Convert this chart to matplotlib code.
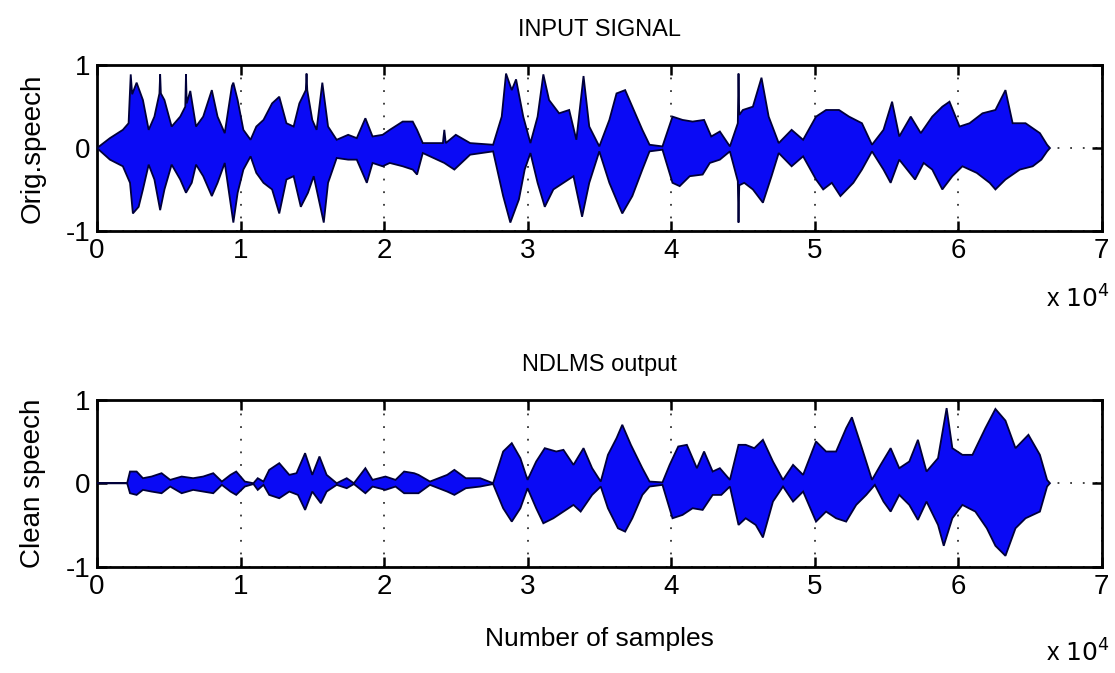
import numpy as np
import matplotlib
matplotlib.use('Agg')
from matplotlib import pyplot as plt

plt.rcParams['font.family'] = ['Liberation Sans', 'DejaVu Sans']

# envelope of the input signal, x in units of 1e4 samples
in_up_x = [0.00, 0.09, 0.18, 0.22, 0.235, 0.245, 0.276, 0.32, 0.36, 0.40, 0.435, 0.44, 0.445, 0.47, 0.52, 0.58,
           0.615, 0.62, 0.625, 0.65, 0.69, 0.74, 0.80, 0.84, 0.89, 0.94, 0.95, 0.98, 1.02, 1.07, 1.11, 1.16,
           1.22, 1.27, 1.32, 1.37, 1.41, 1.455, 1.46, 1.465, 1.50, 1.53, 1.57, 1.61, 1.67, 1.75, 1.81, 1.87,
           1.92, 1.99, 2.04, 2.13, 2.20, 2.23, 2.27, 2.41, 2.42, 2.43, 2.50, 2.60, 2.76, 2.82, 2.85, 2.89,
           2.92, 2.97, 3.02, 3.07, 3.11, 3.15, 3.22, 3.29, 3.34, 3.39, 3.43, 3.50, 3.57, 3.62, 3.68, 3.73,
           3.80, 3.85, 3.94, 4.01, 4.08, 4.15, 4.23, 4.28, 4.34, 4.41, 4.465, 4.47, 4.475, 4.50, 4.57, 4.63,
           4.68, 4.75, 4.84, 4.92, 5.01, 5.08, 5.17, 5.24, 5.33, 5.40, 5.48, 5.54, 5.59, 5.67, 5.74, 5.82,
           5.89, 5.94, 6.01, 6.08, 6.17, 6.26, 6.33, 6.38, 6.47, 6.57, 6.62, 6.64]
in_up_y = [0.00, 0.12, 0.22, 0.30, 0.89, 0.65, 0.79, 0.58, 0.22, 0.38, 0.66, 0.89, 0.66, 0.58, 0.26, 0.38,
           0.50, 0.89, 0.54, 0.69, 0.26, 0.38, 0.70, 0.38, 0.18, 0.75, 0.79, 0.58, 0.22, 0.10, 0.26, 0.34,
           0.54, 0.62, 0.30, 0.26, 0.54, 0.70, 0.90, 0.70, 0.34, 0.22, 0.79, 0.26, 0.10, 0.16, 0.12, 0.36,
           0.14, 0.16, 0.22, 0.32, 0.32, 0.22, 0.06, 0.06, 0.22, 0.06, 0.16, 0.06, 0.04, 0.38, 0.90, 0.70,
           0.83, 0.38, 0.06, 0.38, 0.89, 0.58, 0.42, 0.46, 0.10, 0.87, 0.26, 0.02, 0.34, 0.66, 0.70, 0.50,
           0.22, 0.04, 0.02, 0.38, 0.34, 0.32, 0.34, 0.14, 0.20, 0.02, 0.30, 0.90, 0.40, 0.46, 0.50, 0.85,
           0.38, 0.06, 0.22, 0.10, 0.38, 0.46, 0.46, 0.38, 0.30, 0.04, 0.22, 0.56, 0.14, 0.38, 0.18, 0.38,
           0.50, 0.56, 0.26, 0.30, 0.42, 0.46, 0.70, 0.30, 0.30, 0.18, 0.04, 0.00]
in_lo_x = [0.00, 0.09, 0.18, 0.23, 0.25, 0.29, 0.32, 0.36, 0.40, 0.44, 0.47, 0.52, 0.58, 0.62, 0.66, 0.69,
           0.74, 0.80, 0.84, 0.89, 0.95, 0.98, 1.02, 1.07, 1.11, 1.16, 1.22, 1.27, 1.32, 1.37, 1.42, 1.47,
           1.51, 1.58, 1.61, 1.67, 1.75, 1.81, 1.88, 1.92, 1.99, 2.04, 2.13, 2.20, 2.23, 2.27, 2.42, 2.49,
           2.60, 2.76, 2.83, 2.88, 2.94, 2.98, 3.02, 3.07, 3.12, 3.18, 3.25, 3.32, 3.38, 3.43, 3.50, 3.57,
           3.64, 3.66, 3.73, 3.80, 3.85, 3.94, 4.01, 4.06, 4.13, 4.22, 4.27, 4.34, 4.41, 4.465, 4.47, 4.475,
           4.51, 4.57, 4.64, 4.70, 4.75, 4.84, 4.92, 5.01, 5.06, 5.12, 5.18, 5.27, 5.33, 5.40, 5.48, 5.53,
           5.59, 5.70, 5.76, 5.82, 5.89, 5.96, 6.03, 6.13, 6.22, 6.26, 6.33, 6.43, 6.52, 6.58, 6.62, 6.64]
in_lo_y = [0.00, -0.14, -0.22, -0.42, -0.79, -0.71, -0.50, -0.20, -0.38, -0.75, -0.50, -0.20, -0.38, -0.54, -0.42, -0.20,
           -0.34, -0.58, -0.42, -0.18, -0.90, -0.54, -0.26, -0.10, -0.30, -0.42, -0.50, -0.79, -0.38, -0.34, -0.71, -0.54,
           -0.34, -0.90, -0.42, -0.12, -0.14, -0.14, -0.42, -0.18, -0.22, -0.18, -0.22, -0.26, -0.32, -0.06, -0.18, -0.26,
           -0.08, -0.04, -0.58, -0.90, -0.62, -0.26, -0.06, -0.42, -0.71, -0.50, -0.42, -0.34, -0.83, -0.42, -0.04, -0.42,
           -0.71, -0.79, -0.58, -0.26, -0.04, -0.02, -0.42, -0.46, -0.34, -0.32, -0.18, -0.14, -0.04, -0.40, -0.90, -0.45,
           -0.42, -0.50, -0.66, -0.34, -0.06, -0.22, -0.10, -0.38, -0.50, -0.42, -0.58, -0.42, -0.26, -0.04, -0.26, -0.42,
           -0.14, -0.38, -0.18, -0.26, -0.50, -0.34, -0.22, -0.30, -0.42, -0.50, -0.38, -0.26, -0.22, -0.14, -0.04, 0.00]

# envelope of the NDLMS output
out_up_x = [0.00, 0.21, 0.23, 0.276, 0.32, 0.38, 0.45, 0.51, 0.59, 0.67, 0.74, 0.81, 0.87, 0.93, 0.97, 1.03,
            1.09, 1.12, 1.16, 1.20, 1.27, 1.34, 1.39, 1.45, 1.50, 1.55, 1.60, 1.67, 1.74, 1.79, 1.87, 1.92,
            2.01, 2.08, 2.14, 2.21, 2.24, 2.32, 2.44, 2.49, 2.57, 2.67, 2.76, 2.83, 2.89, 2.95, 3.00, 3.06,
            3.12, 3.20, 3.25, 3.32, 3.39, 3.45, 3.51, 3.56, 3.62, 3.66, 3.72, 3.80, 3.85, 3.94, 3.99, 4.05,
            4.11, 4.18, 4.23, 4.29, 4.34, 4.41, 4.47, 4.52, 4.58, 4.64, 4.71, 4.78, 4.85, 4.92, 5.01, 5.08,
            5.15, 5.22, 5.26, 5.33, 5.40, 5.46, 5.53, 5.59, 5.66, 5.72, 5.78, 5.86, 5.92, 5.96, 6.03, 6.10,
            6.19, 6.26, 6.33, 6.40, 6.49, 6.57, 6.62, 6.64]
out_up_y = [0.00, 0.00, 0.14, 0.14, 0.06, 0.08, 0.12, 0.04, 0.08, 0.06, 0.08, 0.12, 0.02, 0.10, 0.14, 0.02,
            0.00, 0.06, 0.02, 0.16, 0.24, 0.10, 0.12, 0.36, 0.10, 0.32, 0.10, 0.00, 0.06, 0.00, 0.18, 0.04,
            0.08, 0.04, 0.14, 0.12, 0.10, 0.02, 0.10, 0.16, 0.06, 0.06, 0.00, 0.38, 0.48, 0.30, 0.04, 0.26,
            0.42, 0.38, 0.40, 0.22, 0.42, 0.18, 0.02, 0.34, 0.54, 0.70, 0.46, 0.18, 0.02, 0.01, 0.22, 0.44,
            0.46, 0.18, 0.38, 0.14, 0.18, 0.04, 0.46, 0.46, 0.42, 0.52, 0.26, 0.04, 0.22, 0.10, 0.50, 0.38,
            0.38, 0.66, 0.79, 0.42, 0.04, 0.22, 0.42, 0.18, 0.26, 0.52, 0.14, 0.30, 0.90, 0.42, 0.34, 0.34,
            0.66, 0.89, 0.75, 0.42, 0.58, 0.34, 0.04, 0.00]
out_lo_x = [0.00, 0.21, 0.23, 0.276, 0.32, 0.38, 0.45, 0.51, 0.59, 0.67, 0.74, 0.81, 0.87, 0.93, 0.97, 1.03,
            1.09, 1.12, 1.16, 1.20, 1.27, 1.34, 1.40, 1.45, 1.50, 1.56, 1.60, 1.67, 1.74, 1.79, 1.87, 1.92,
            2.01, 2.08, 2.14, 2.21, 2.24, 2.32, 2.44, 2.49, 2.57, 2.67, 2.76, 2.83, 2.89, 2.95, 3.00, 3.06,
            3.11, 3.18, 3.25, 3.32, 3.37, 3.45, 3.51, 3.56, 3.63, 3.68, 3.73, 3.80, 3.85, 3.94, 4.01, 4.08,
            4.15, 4.22, 4.29, 4.35, 4.41, 4.47, 4.52, 4.59, 4.64, 4.71, 4.78, 4.85, 4.92, 5.01, 5.08, 5.15,
            5.22, 5.29, 5.36, 5.42, 5.48, 5.53, 5.59, 5.66, 5.72, 5.78, 5.86, 5.90, 5.96, 6.03, 6.12, 6.20,
            6.26, 6.33, 6.40, 6.47, 6.57, 6.62, 6.64]
out_lo_y = [0.00, 0.00, -0.12, -0.14, -0.08, -0.10, -0.12, -0.04, -0.12, -0.08, -0.10, -0.12, -0.02, -0.10, -0.14, -0.04,
            -0.01, -0.08, -0.02, -0.14, -0.18, -0.10, -0.14, -0.32, -0.10, -0.24, -0.10, -0.02, -0.06, -0.01, -0.12, -0.04,
            -0.08, -0.04, -0.12, -0.12, -0.12, -0.02, -0.10, -0.14, -0.06, -0.04, -0.01, -0.30, -0.46, -0.30, -0.06, -0.30,
            -0.48, -0.42, -0.34, -0.26, -0.34, -0.14, -0.04, -0.30, -0.54, -0.58, -0.42, -0.14, -0.04, -0.02, -0.42, -0.38,
            -0.30, -0.32, -0.14, -0.14, -0.04, -0.50, -0.42, -0.50, -0.65, -0.22, -0.04, -0.22, -0.10, -0.46, -0.34, -0.42,
            -0.46, -0.26, -0.14, -0.02, -0.22, -0.34, -0.14, -0.26, -0.44, -0.22, -0.50, -0.75, -0.42, -0.26, -0.34, -0.54,
            -0.75, -0.87, -0.54, -0.42, -0.34, -0.04, 0.00]

titles = ['INPUT SIGNAL', 'NDLMS output']
ylabels = ['Orig.speech', 'Clean speech']
xticks = [0, 1, 2, 3, 4, 5, 6, 7]
yticks = [-1, 0, 1]

fig = plt.figure(figsize=(11.15, 6.73), dpi=100)
ax1 = fig.add_axes([0.087, 0.657, 0.901, 0.246])
ax2 = fig.add_axes([0.087, 0.158, 0.901, 0.248])

data = [(in_up_x, in_up_y, in_lo_x, in_lo_y), (out_up_x, out_up_y, out_lo_x, out_lo_y)]
for ax, (ux, uy, lx, ly), t, yl in zip([ax1, ax2], data, titles, ylabels):
    px = np.concatenate([ux, lx[::-1]])
    py = np.concatenate([uy, ly[::-1]])
    ax.fill(px, py, facecolor='#0a0af5', edgecolor='#00003a', linewidth=1.3, zorder=3)
    ax.set_xlim(0, 7)
    ax.set_ylim(-1, 1)
    ax.set_xticks(xticks)
    ax.set_yticks(yticks)
    ax.set_xticklabels([str(v) for v in xticks])
    ax.set_yticklabels([str(v) for v in yticks])
    ax.grid(True, color='#333333', linestyle=(0, (1, 6)), linewidth=1.3, zorder=1)
    ax.tick_params(direction='in', top=True, right=True, length=7, width=1.8,
                   labelsize=20, pad=5)
    for s in ax.spines.values():
        s.set_linewidth(2)
    ax.set_title(t, fontsize=17, pad=21)
    ax.set_ylabel(yl, fontsize=20, labelpad=14)

ax2.set_xlabel('Number of samples', fontsize=19, labelpad=20)

fig.text(0.938, 0.556, r'x $10^4$', fontsize=18, ha='left', va='center')
fig.text(0.938, 0.03, r'x $10^4$', fontsize=18, ha='left', va='center')

fig.savefig('out.png', dpi=100)
